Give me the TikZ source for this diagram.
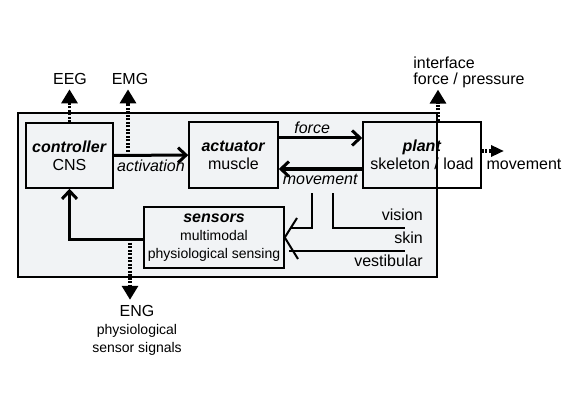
\documentclass[tikz,border=0pt]{standalone}
\usepackage{fontspec}
\setmainfont{Liberation Sans}
\usetikzlibrary{arrows.meta}
\newcommand{\bi}[1]{\textbf{\textit{#1}}}
\newcommand{\smallfont}{\fontsize{14}{15}\selectfont}
\definecolor{panel}{RGB}{241,243,245}

\begin{document}
\begin{tikzpicture}[x=1pt, y=-1pt, font=\fontsize{16}{18}\selectfont,
        box/.style={draw, line width=1.5pt, align=center, inner sep=0pt},
        flow/.style={line width=3pt, -{Straight Barb[length=8pt, width=15pt]}},
        sig/.style={line width=3.2pt, dash pattern=on 2pt off 1.5pt, -{Triangle[length=14pt, width=16pt]}},
        sense/.style={line width=2pt},
        lbl/.style={inner sep=5pt, align=center}]
    \useasboundingbox (0,0) rectangle (581,409);
    \draw[fill=panel, line width=1.5pt] (18,113) rectangle (437,277);

    \node[box, minimum width=87pt, minimum height=65pt] (ctrl) at (69.5,155.5) {\bi{controller}\\CNS};
    \node[box, minimum width=89pt, minimum height=66pt] (act) at (233.5,155) {\bi{actuator}\\muscle};
    \node[box, minimum width=118pt, minimum height=66pt] (plant) at (422,155) {\bi{plant}\\skeleton / load};
    \node[box, minimum width=140pt, minimum height=61pt] (sens) at (214,237.5) {\bi{sensors}\\\smallfont multimodal\\\smallfont physiological sensing};

    \node[lbl] (eeg) at (70,78.5) {EEG};
    \node[lbl] (emg) at (130,78.5) {EMG};
    \node[lbl, inner sep=2pt, align=left] (iface) at (469,72) {interface\\[-2pt]force / pressure};
    \node[lbl] (eng) at (137,330) {ENG\\\smallfont physiological\\\smallfont sensor signals};
    \node[lbl, inner sep=0pt] (mvout) at (524,164) {movement};
    \node[anchor=east, inner sep=0pt] (vision) at (423,215) {vision};
    \node[anchor=east, inner sep=0pt] (skin) at (423,238) {skin};
    \node[anchor=east, inner sep=0pt] (vest) at (423,261) {vestibular};

    \coordinate (emgtap) at (128,152);
    \coordinate (ifctap) at (438,121);
    \coordinate (engtap) at (130,239);
    \coordinate (mvtip) at (504,151);
    \coordinate (vistop) at (312,193);
    \coordinate (skintop) at (333,193);
    \coordinate (armtop) at (297,218);
    \coordinate (armbot) at (298,259);

    \draw[flow] (ctrl) -- (act) node[below, midway] {\textit{activation}};
    \draw[flow] ([yshift=17pt]act.east) -- ([yshift=17pt]plant.west) node[above, pos=0.4] {\textit{force}};
    \draw[flow] ([yshift=-14pt]plant.west) -- ([yshift=-14pt]act.east) node[below, midway] {\textit{movement}};
    \draw[flow] ([yshift=-2pt]sens.west) -| (ctrl.south);

    \draw[sig] (ctrl.north) -- (ctrl.north |- eeg.south);
    \draw[sig] (emgtap) -- (emgtap |- emg.south);
    \draw[sig] (ifctap) -- (ifctap |- iface.south);
    \draw[sig] (engtap) -- (engtap |- eng.north);
    \draw[sig, -{Triangle[length=13pt, width=11pt]}] ([yshift=4pt]plant.east) -- (mvtip);

    \draw[sense] (armtop) -- (sens.east) -- (armbot);
    \draw[sense] (vistop) |- (290,228);
    \draw[sense] (skintop) |- (405,228);
    \draw[sense] (405,251) -- (289,251);
\end{tikzpicture}
\end{document}
